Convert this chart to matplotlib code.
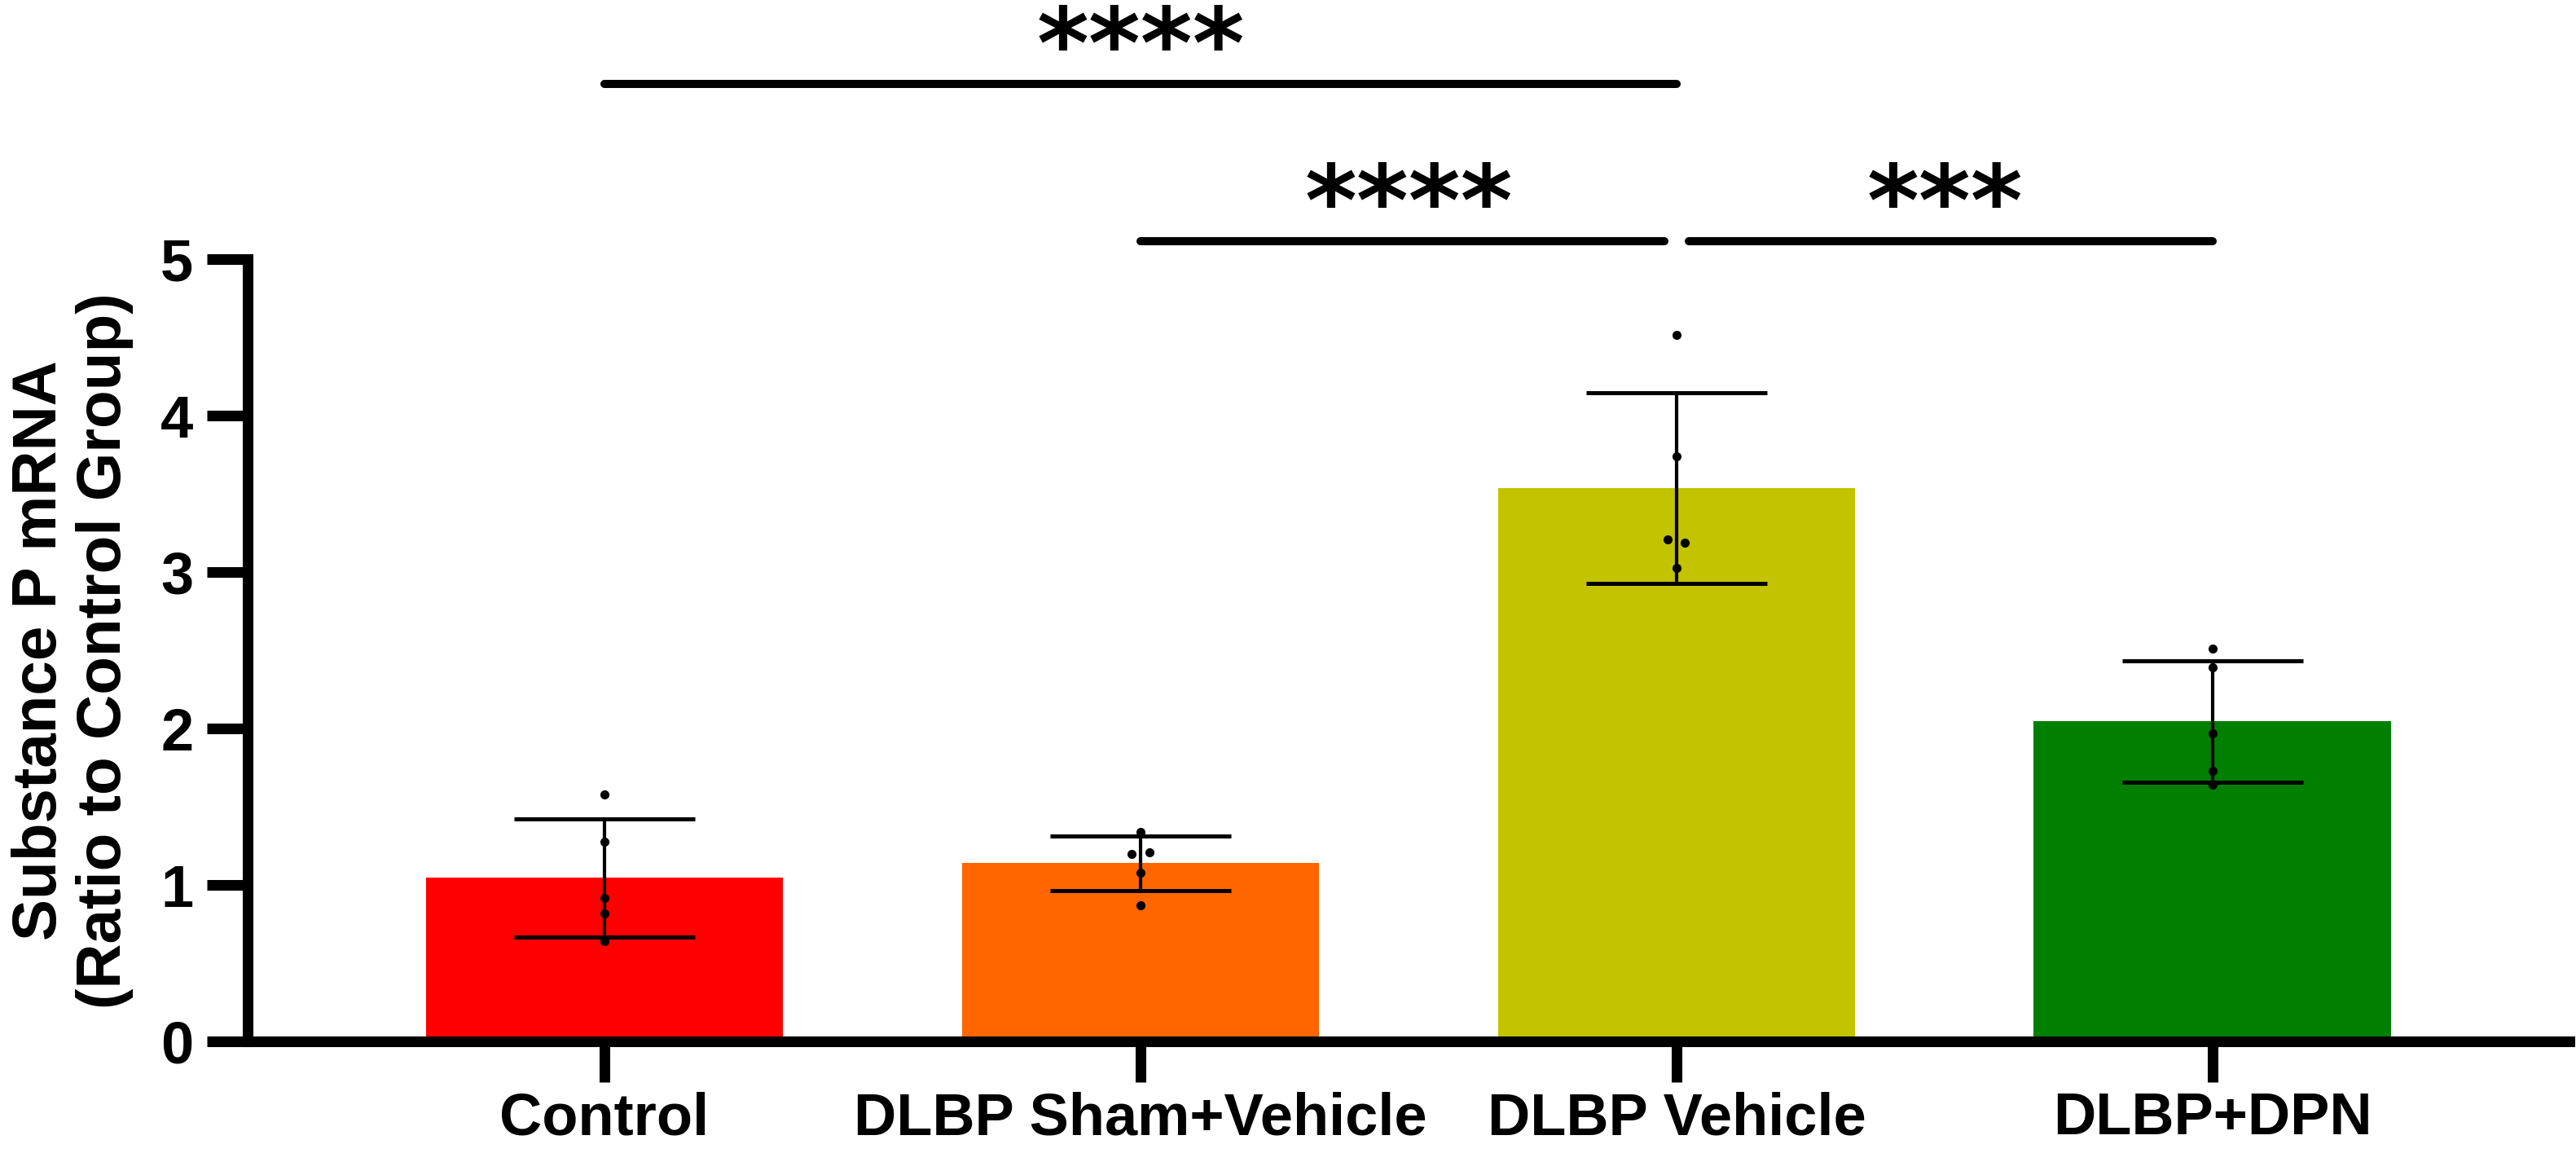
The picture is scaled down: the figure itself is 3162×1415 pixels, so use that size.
import matplotlib.pyplot as plt
import numpy as np

# data
groups = ["Control", "DLBP Sham+Vehicle", "DLBP Vehicle", "DLBP+DPN"]
control = [1.58, 1.28, 0.92, 0.82, 0.64]
sham_vehicle = [1.34, 1.20, 1.21, 1.08, 0.87]
vehicle = [4.52, 3.74, 3.21, 3.19, 3.03]
dpn = [2.51, 2.39, 1.97, 1.73, 1.64]
colors = ["#ff0000", "#ff6600", "#c3c300", "#007f00"]

# significance comparisons: (group a, group b, label)
comparisons = [(0, 2, "****"), (1, 2, "****"), (2, 3, "***")]

plt.rcParams["font.family"] = ["Liberation Sans", "DejaVu Sans"]
plt.rcParams["font.weight"] = "bold"

samples = [control, sham_vehicle, vehicle, dpn]
means = [np.mean(s) for s in samples]
sds = [np.std(s, ddof=1) for s in samples]
x = np.arange(len(groups))

fig = plt.figure(figsize=(15.81, 7.075), dpi=200)
ax = fig.add_axes([0.0961, 0.0966, 0.9014, 0.6784])

ax.bar(x, means, width=0.667, color=colors, zorder=1)
ax.errorbar(x, means, yerr=sds, fmt="none", ecolor="black", elinewidth=1.5,
            capsize=40, capthick=1.8, zorder=2)

# scatter the individual points, nudging near-equal values apart
for i, s in enumerate(samples):
    xs = np.full(len(s), float(i))
    for a in range(len(s)):
        for b in range(a + 1, len(s)):
            if abs(s[a] - s[b]) < 0.05:
                xs[a] -= 0.016
                xs[b] += 0.016
    ax.plot(xs, s, "o", color="black", ms=3, zorder=3)

# significance brackets
levels = {0: 6.12, 1: 5.115, 2: 5.115}
for k, (a, b, label) in enumerate(comparisons):
    y = levels[k]
    x0, x1 = float(a), float(b)
    for m, (c, d, _) in enumerate(comparisons):
        if m != k and levels[m] == y:
            if c == b:
                x1 -= 0.023
            if d == a:
                x0 += 0.023
    ax.plot([x0, x1], [y, y], color="black", lw=3.6, solid_capstyle="round",
            clip_on=False)
    ax.text((a + b) / 2, y + 0.04, label, ha="center", va="baseline",
            fontsize=44, fontweight="bold", family="DejaVu Sans")

ax.set_xlim(-0.666, 3.666)
ax.set_ylim(0, 5)
ax.set_yticks(range(6))
ax.set_xticks(x)
ax.set_xticklabels(groups)

for side in ["top", "right"]:
    ax.spines[side].set_visible(False)
for side in ["left", "bottom"]:
    ax.spines[side].set_linewidth(4.7)
ax.tick_params(axis="both", width=4.7, length=18, labelsize=26)
ax.tick_params(axis="y", pad=6)
ax.tick_params(axis="x", pad=4)

ax.set_ylabel("Substance P mRNA\n(Ratio to Control Group)", fontsize=27.5,
              fontweight="bold", linespacing=1.15)
ax.yaxis.set_label_coords(-0.049, 0.5)

fig.savefig("out.png", dpi=200)
